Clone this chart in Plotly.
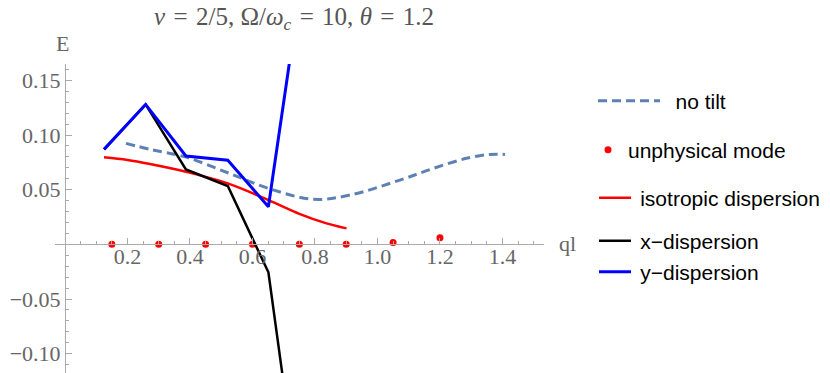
import plotly.graph_objects as go

# no tilt (dashed)
q_notilt = [0.195, 0.272, 0.385, 0.521, 0.651, 0.795, 0.912, 1.072, 1.179, 1.285, 1.36, 1.408]
e_notilt = [0.0924, 0.0869, 0.080, 0.0655, 0.0512, 0.0412, 0.0451, 0.0588, 0.0695, 0.0787, 0.0823, 0.0823]

# unphysical mode (dots)
q_unphys = [0.15, 0.3, 0.45, 0.6, 0.75, 0.9, 1.05, 1.2]
e_unphys = [0.0, 0.0, 0.0, 0.0, 0.0, 0.0, 0.0018, 0.006]

# isotropic dispersion
q_iso = [0.125, 0.2, 0.272, 0.387, 0.521, 0.651, 0.752, 0.837, 0.901]
e_iso = [0.0796, 0.0772, 0.0735, 0.0664, 0.0558, 0.0405, 0.0277, 0.0192, 0.0146]

# x-dispersion
q_x = [0.125, 0.258, 0.387, 0.521, 0.651, 0.782]
e_x = [0.0869, 0.128, 0.0686, 0.0533, -0.0256, -0.299]

# y-dispersion
q_y = [0.125, 0.258, 0.387, 0.521, 0.651, 0.782]
e_y = [0.0869, 0.128, 0.0808, 0.0769, 0.0344, 0.291]

x_ticks = [0.2, 0.4, 0.6, 0.8, 1.0, 1.2, 1.4]
y_ticks = [-0.10, -0.05, 0.05, 0.10, 0.15]

X_RANGE = [-0.032, 1.533]
Y_RANGE = [-0.1177, 0.165]

SERIF = "Liberation Serif, Times New Roman, serif"
SANS = "Liberation Sans, Arial, sans-serif"
GREY = "#666666"
AXIS = "#aaaaaa"

W, H = 830, 373
L, T = 55, 64
plot_w, plot_h = 489, H - T

fig = go.Figure()
fig.add_trace(go.Scatter(
    x=q_notilt, y=e_notilt, mode="lines", name="\u2002no tilt", line_shape="spline",
    line=dict(color="#5E81B5", width=3, dash="9px,5px"), legend="legend",
))
fig.add_trace(go.Scatter(
    x=q_unphys, y=e_unphys, mode="markers", name="unphysical mode",
    marker=dict(color="#FF0000", size=7), legend="legend2", cliponaxis=False,
))
fig.add_trace(go.Scatter(
    x=q_iso, y=e_iso, mode="lines", name="\u2009isotropic dispersion", line_shape="spline",
    line=dict(color="#FF0000", width=2.5), legend="legend3",
))
fig.add_trace(go.Scatter(
    x=q_x, y=e_x, mode="lines", name="\u2009x\u2212dispersion",
    line=dict(color="#000000", width=2.5), legend="legend4",
))
fig.add_trace(go.Scatter(
    x=q_y, y=e_y, mode="lines", name="\u2009y\u2212dispersion",
    line=dict(color="#0000FF", width=3), legend="legend5",
))


def legend_at(px, py, itemwidth=30):
    return dict(
        x=px / W, y=1 - py / H, xref="container", yref="container",
        xanchor="left", yanchor="middle", bgcolor="rgba(0,0,0,0)",
        itemwidth=itemwidth,
        font=dict(family=SANS, size=21, color="#000000"),
    )


def ann(text, px, py):
    # place a text at page pixel (px, py)
    return dict(
        text=text, x=(px - L) / plot_w, y=(H - py) / plot_h,
        xref="paper", yref="paper", xanchor="center", yanchor="middle",
        showarrow=False, font=dict(family=SERIF, size=22, color=GREY),
    )


sp = "\u2004"
fig.update_layout(
    width=W, height=H,
    margin=dict(l=L, r=W - L - plot_w, t=T, b=0),
    plot_bgcolor="white", paper_bgcolor="white",
    showlegend=True,
    legend=legend_at(593, 101, 62),
    legend2=legend_at(588, 150),
    legend3=legend_at(594, 198, 32),
    legend4=legend_at(594, 241, 32),
    legend5=legend_at(594, 272, 32),
    title=dict(
        text=f"<i>ν</i>{sp}={sp}2/5, Ω/<i>ω</i><sub><i>c</i></sub>{sp}={sp}10, <i>θ</i>{sp}={sp}1.2",
        x=294 / W, y=1 - 16 / H, xref="container", yref="container",
        xanchor="center", yanchor="middle",
        font=dict(family=SERIF, size=25, color="#555555"),
    ),
    xaxis=dict(
        range=X_RANGE, anchor="free", position=(0 - Y_RANGE[0]) / (Y_RANGE[1] - Y_RANGE[0]),
        showgrid=False, zeroline=False, showline=True, linecolor=AXIS, linewidth=1,
        tickvals=x_ticks, tickformat=".1f", ticks="inside", ticklen=6, tickcolor=AXIS,
        minor=dict(dtick=0.05, tick0=0, ticks="inside", ticklen=3, tickcolor=AXIS),
        tickfont=dict(family=SERIF, size=22, color=GREY), ticklabelstandoff=-8,
    ),
    yaxis=dict(
        range=Y_RANGE, anchor="free", position=(0 - X_RANGE[0]) / (X_RANGE[1] - X_RANGE[0]),
        showgrid=False, zeroline=False, showline=True, linecolor=AXIS, linewidth=1,
        tickvals=y_ticks, tickformat=".2f", ticks="inside", ticklen=6, tickcolor=AXIS,
        minor=dict(dtick=0.01, tick0=0, ticks="inside", ticklen=3, tickcolor=AXIS),
        tickfont=dict(family=SERIF, size=22, color=GREY),
    ),
    annotations=[ann("E", 62, 43), ann("ql", 567, 243)],
)

# drop the default body margin so the figure sits at the page origin
fig.write_html(
    "out.html",
    config={"displayModeBar": False},
    post_script="document.body.style.margin='0';",
)
